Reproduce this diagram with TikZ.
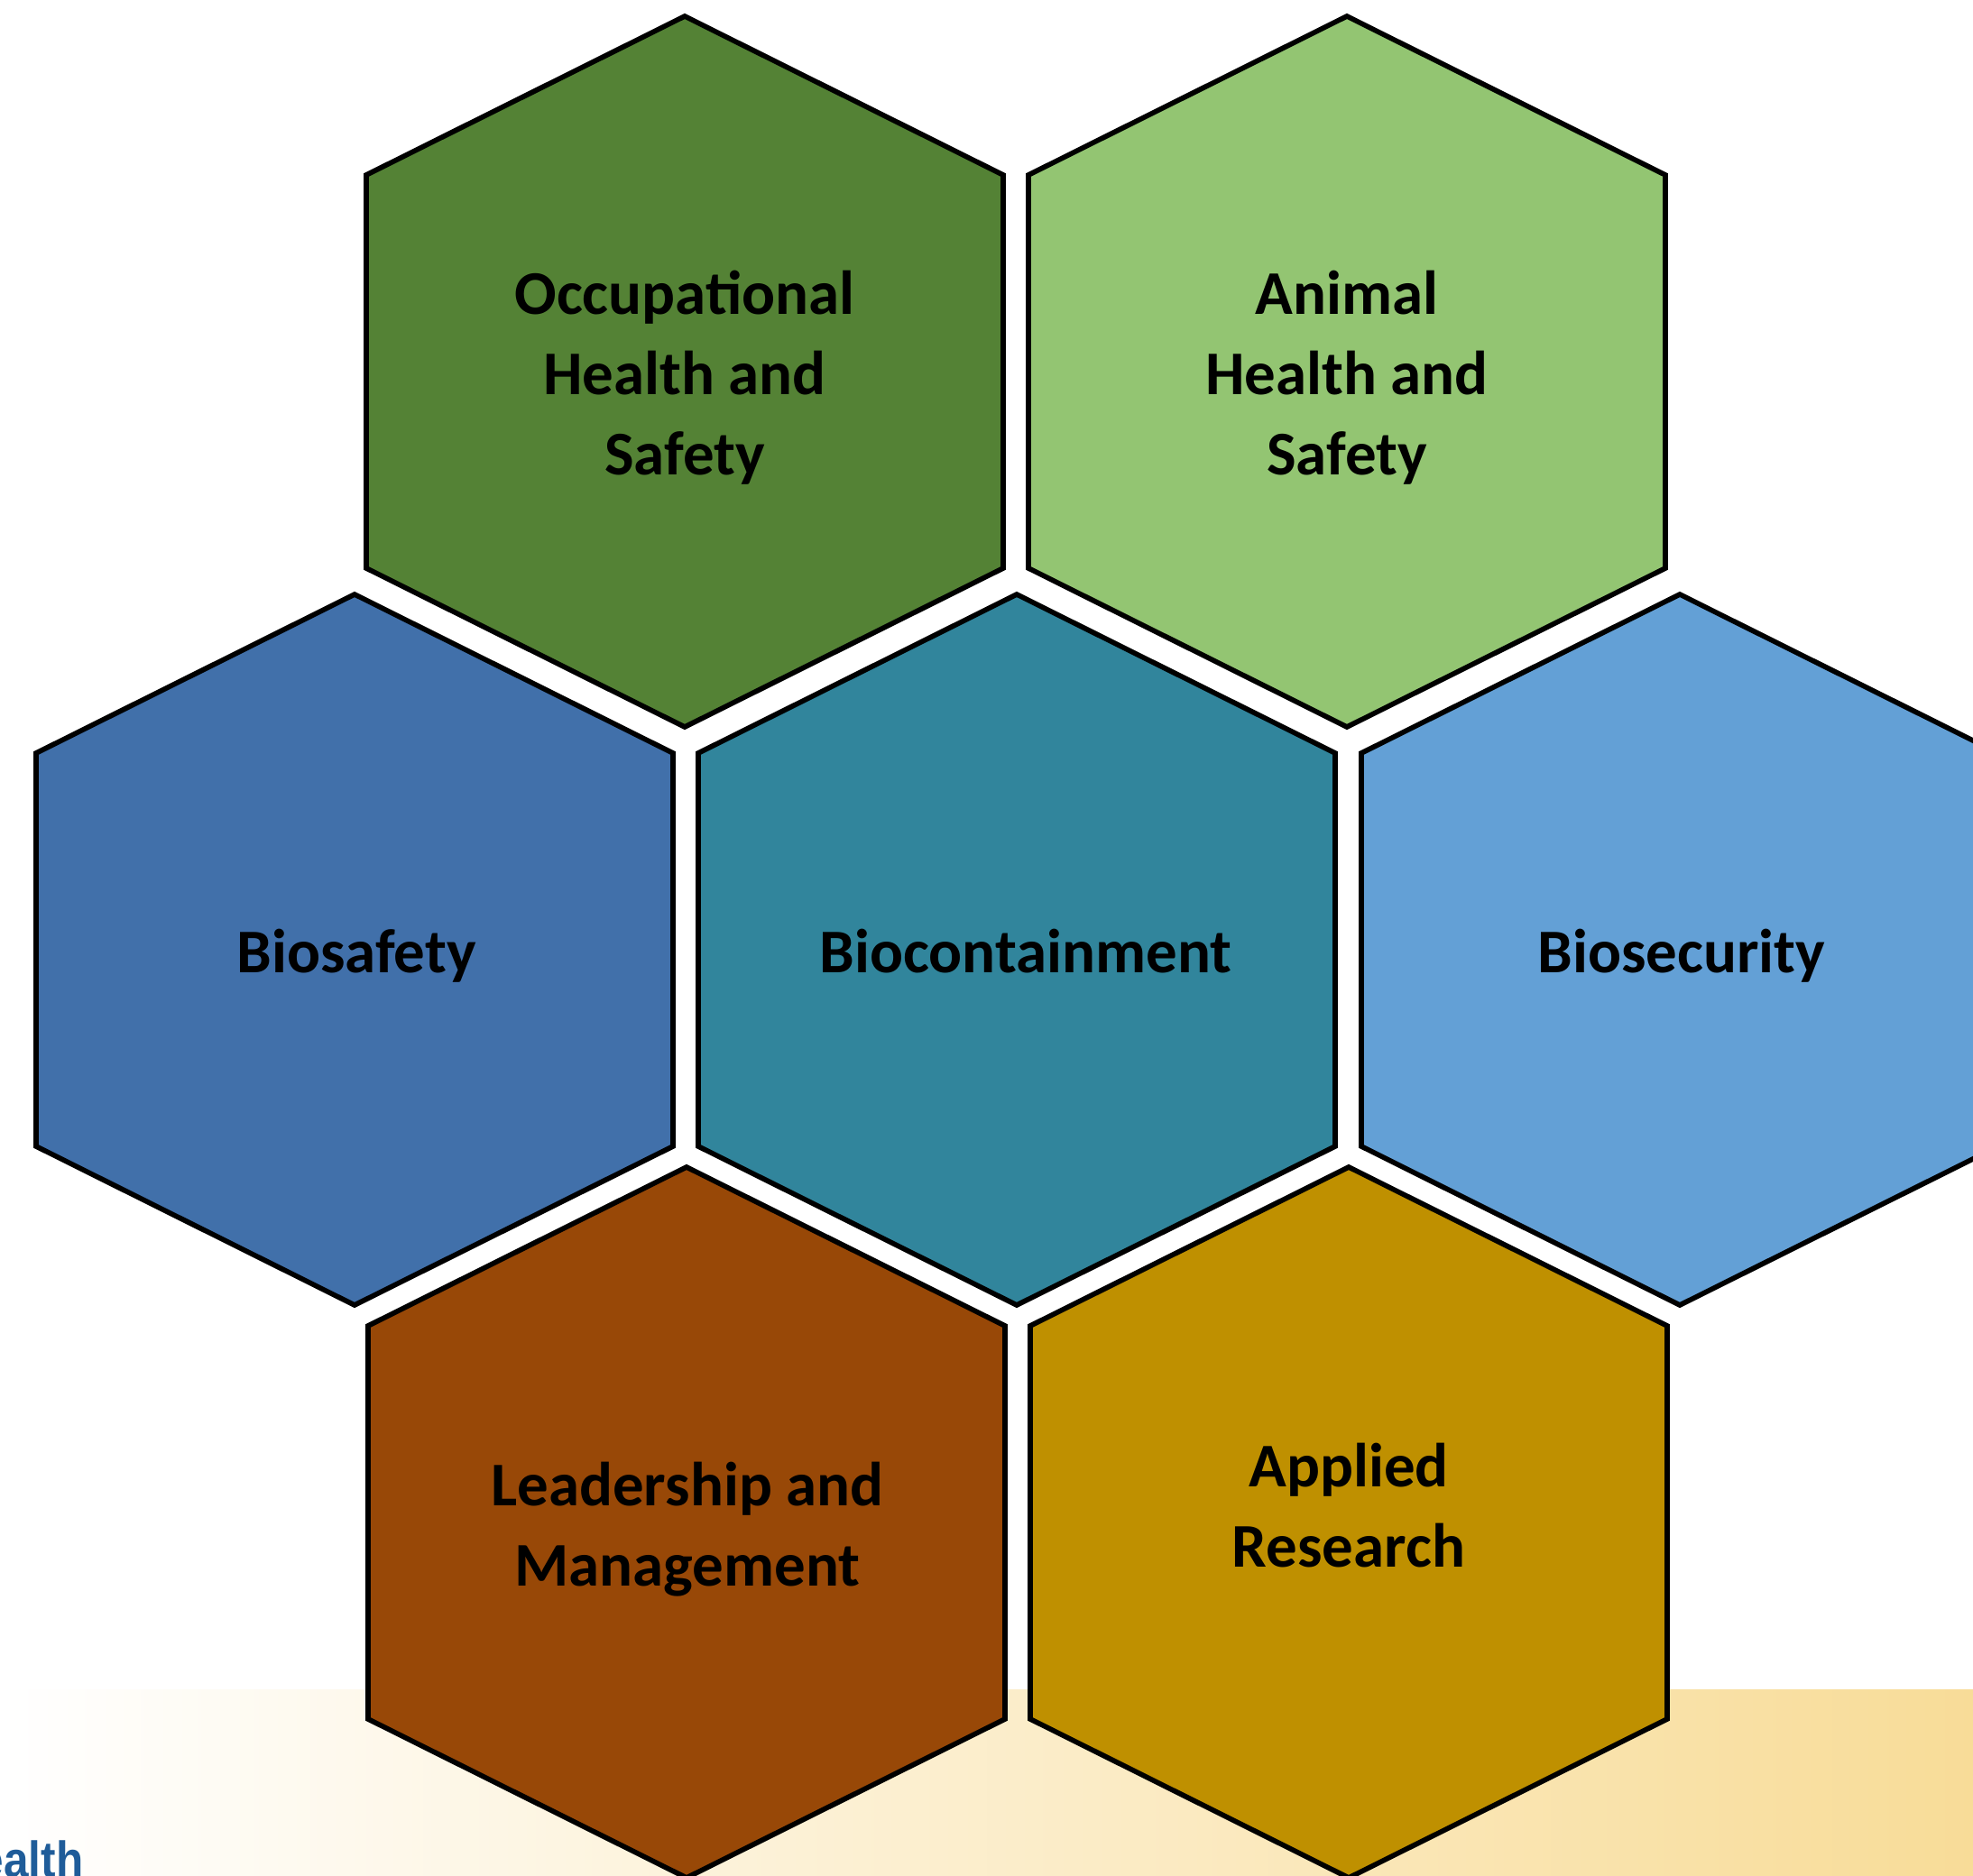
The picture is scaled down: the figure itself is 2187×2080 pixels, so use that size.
\documentclass[tikz,border=0pt]{standalone}
\usepackage{xcolor}
\usepackage{graphicx}
\usepackage{fontspec}
\setmainfont{Carlito}
\newfontfamily\logofont{Liberation Sans}
\usepackage{tikz}
\definecolor{ohsgreen}{HTML}{548235}
\definecolor{ahsgreen}{HTML}{93C572}
\definecolor{safetyblue}{HTML}{4170AA}
\definecolor{containteal}{HTML}{31859C}
\definecolor{securityblue}{HTML}{63A0D6}
\definecolor{leadbrown}{HTML}{984807}
\definecolor{researchgold}{HTML}{BF9000}
\definecolor{bandgold}{HTML}{F8DC98}
\definecolor{logoblue}{HTML}{1F5C99}

\begin{document}
\begin{tikzpicture}[x=0.01cm,y=-0.01cm,
  cell/.style={draw=black,line width=1.6pt,line join=miter},
  celltext/.style={font=\fontsize{19.6}{25.3}\selectfont\bfseries,align=center,text=black}]
\useasboundingbox (0,0) rectangle (2187,2080);
\clip (0,0) rectangle (2187,2080);
\shade[left color=white,right color=bandgold] (0,1873) rectangle (2187,2080);
\node[anchor=base west,inner sep=0pt,text=logoblue,font=\logofont\bfseries\fontsize{16}{19}\selectfont] (logo) at (-24,2081) {\scalebox{0.88}[1]{ealth}};
% top row
\filldraw[cell,fill=ohsgreen] (759,412) ++(0,-394) -- ++(353,176) -- ++(0,436) -- ++(-353,176) -- ++(-353,-176) -- ++(0,-436) -- cycle;
\filldraw[cell,fill=ahsgreen] (1493,412) ++(0,-394) -- ++(353,176) -- ++(0,436) -- ++(-353,176) -- ++(-353,-176) -- ++(0,-436) -- cycle;
% middle row
\filldraw[cell,fill=safetyblue] (393,1053) ++(0,-394) -- ++(353,176) -- ++(0,436) -- ++(-353,176) -- ++(-353,-176) -- ++(0,-436) -- cycle;
\filldraw[cell,fill=containteal] (1127,1053) ++(0,-394) -- ++(353,176) -- ++(0,436) -- ++(-353,176) -- ++(-353,-176) -- ++(0,-436) -- cycle;
\filldraw[cell,fill=securityblue] (1862,1053) ++(0,-394) -- ++(353,176) -- ++(0,436) -- ++(-353,176) -- ++(-353,-176) -- ++(0,-436) -- cycle;
% bottom row
\filldraw[cell,fill=leadbrown] (761,1688) ++(0,-394) -- ++(353,176) -- ++(0,436) -- ++(-353,176) -- ++(-353,-176) -- ++(0,-436) -- cycle;
\filldraw[cell,fill=researchgold] (1495,1688) ++(0,-394) -- ++(353,176) -- ++(0,436) -- ++(-353,176) -- ++(-353,-176) -- ++(0,-436) -- cycle;

\node[celltext] (ohs) at (759,419) {Occupational\\Health and\\Safety};
\node[celltext] (ahs) at (1493,419) {Animal\\Health and\\Safety};
\node[celltext] (biosafety) at (395,1060) {Biosafety};
\node[celltext] (biocontainment) at (1137,1055) {Biocontainment};
\node[celltext] (biosecurity) at (1864,1060) {Biosecurity};
\node[celltext] (leadership) at (762,1696) {Leadership and\\Management};
\node[celltext] (research) at (1495,1669) {Applied\\Research};
\end{tikzpicture}
\end{document}
